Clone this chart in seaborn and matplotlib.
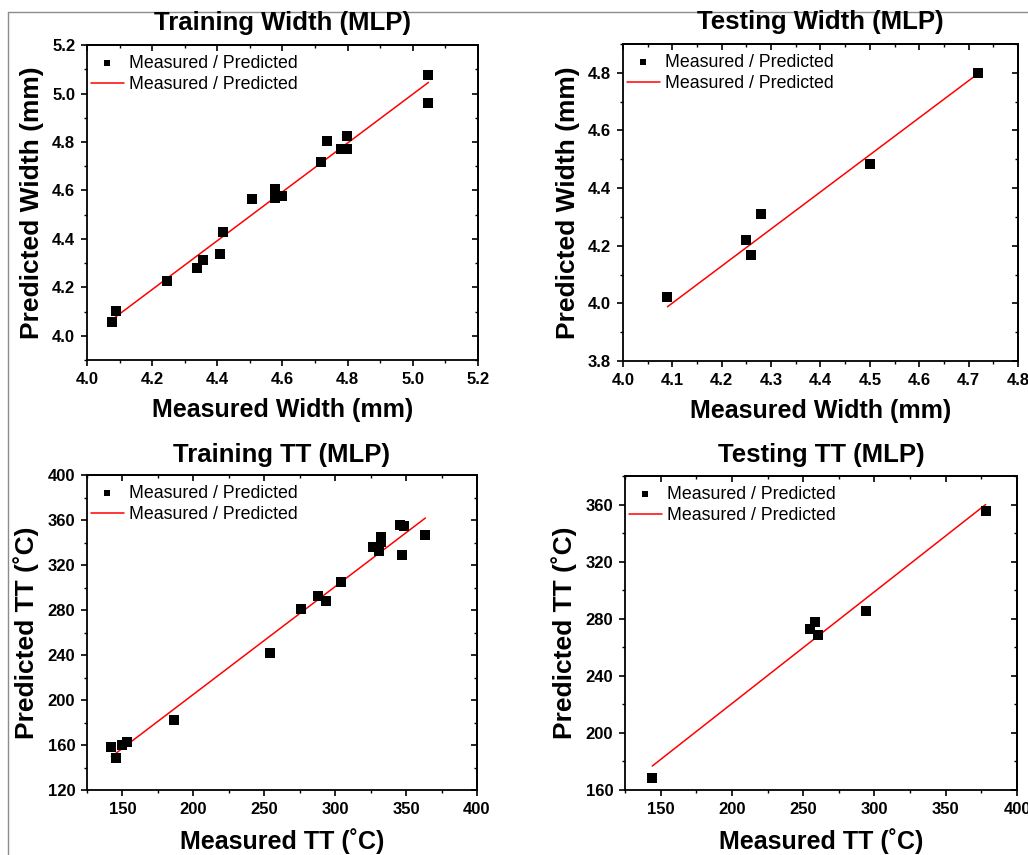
import matplotlib
matplotlib.use("Agg")
import matplotlib.pyplot as plt
from matplotlib.lines import Line2D
from matplotlib.ticker import MultipleLocator
import seaborn as sns
import pandas as pd

# ---- data -------------------------------------------------------------
train_w_meas = [4.078, 4.088, 4.247, 4.338, 4.357, 4.408, 4.417, 4.507, 4.577,
                4.577, 4.597, 4.717, 4.738, 4.778, 4.797, 4.797, 5.048, 5.048]
train_w_pred = [4.058, 4.103, 4.228, 4.280, 4.313, 4.337, 4.429, 4.563, 4.607,
                4.570, 4.577, 4.717, 4.804, 4.772, 4.823, 4.772, 5.077, 4.959]
train_w_fit_x = [4.078, 5.048]
train_w_fit_y = [4.068, 5.046]

test_w_meas = [4.090, 4.250, 4.260, 4.280, 4.500, 4.720]
test_w_pred = [4.023, 4.220, 4.168, 4.309, 4.483, 4.800]
test_w_fit_x = [4.090, 4.720]
test_w_fit_y = [3.988, 4.798]

train_tt_meas = [142.2, 145.5, 149.5, 153.5, 186.5, 253.8, 276.1, 287.9, 293.8,
                 304.1, 326.9, 331.2, 332.1, 332.1, 345.8, 348.4, 347.2, 363.4]
train_tt_pred = [158.5, 148.7, 159.7, 162.7, 182.5, 241.8, 280.9, 292.4, 288.0,
                 305.2, 335.7, 332.1, 340.7, 344.6, 355.6, 354.7, 328.9, 346.7]
train_tt_fit_x = [142.2, 363.6]
train_tt_fit_y = [149.6, 361.8]

test_tt_meas = [144.1, 255.0, 258.2, 260.1, 293.9, 378.0]
test_tt_pred = [168.6, 272.5, 277.6, 268.7, 285.3, 355.3]
test_tt_fit_x = [144.1, 378.0]
test_tt_fit_y = [176.8, 360.0]

titles = ["Training Width (MLP)", "Testing Width (MLP)",
          "Training TT (MLP)", "Testing TT (MLP)"]
xlabels = ["Measured Width (mm)", "Measured Width (mm)",
           "Measured TT (˚C)", "Measured TT (˚C)"]
ylabels = ["Predicted Width (mm)", "Predicted Width (mm)",
           "Predicted TT (˚C)", "Predicted TT (˚C)"]
legend_label = "Measured / Predicted"

# ---- style ------------------------------------------------------------
sns.set_theme(style="ticks")
plt.rcParams["font.family"] = ["Liberation Sans", "DejaVu Sans"]
plt.rcParams.update({
    "axes.linewidth": 1.3,
    "text.color": "black",
    "axes.labelcolor": "black",
    "axes.titlecolor": "black",
    "xtick.color": "black",
    "ytick.color": "black",
    "axes.edgecolor": "black",
})

fig = plt.figure(figsize=(10.28, 8.55), dpi=100)
fig.patch.set_facecolor("white")

# axes rectangles in figure fractions
rects = [
    [0.0846, 0.5789, 0.3804, 0.3684],
    [0.6060, 0.5778, 0.3842, 0.3708],
    [0.0846, 0.0760, 0.3794, 0.3684],
    [0.6080, 0.0760, 0.3813, 0.3673],
]
panels = [
    (train_w_meas, train_w_pred, train_w_fit_x, train_w_fit_y,
     (4.0, 5.2), (3.9, 5.2), 0.2, 0.1, 0.2, 0.1, "{:.1f}", 11.0),
    (test_w_meas, test_w_pred, test_w_fit_x, test_w_fit_y,
     (4.0, 4.8), (3.8, 4.9), 0.1, 0.05, 0.2, 0.1, "{:.1f}", 11.0),
    (train_tt_meas, train_tt_pred, train_tt_fit_x, train_tt_fit_y,
     (125, 400), (120, 400), 50, 25, 40, 20, "{:.0f}", 9.5),
    (test_tt_meas, test_tt_pred, test_tt_fit_x, test_tt_fit_y,
     (125, 400), (160, 380), 50, 25, 40, 20, "{:.0f}", 10),
]

for rect, title, xl, yl, p in zip(rects, titles, xlabels, ylabels, panels):
    (mx, py, fx, fy, xlim, ylim, xmaj, xmin, ymaj, ymin, fmt, tpad) = p
    ax = fig.add_axes(rect)
    pts = pd.DataFrame({"m": mx, "p": py})
    fit = pd.DataFrame({"m": fx, "p": fy})
    sns.scatterplot(data=pts, x="m", y="p", ax=ax, marker="s", s=44,
                    color="black", linewidth=0, label=legend_label, zorder=3)
    sns.lineplot(data=fit, x="m", y="p", ax=ax, color="red", linewidth=1.1,
                 label=legend_label, zorder=2)
    ax.set_xlim(*xlim)
    ax.set_ylim(*ylim)
    ax.xaxis.set_major_locator(MultipleLocator(xmaj))
    ax.xaxis.set_minor_locator(MultipleLocator(xmin))
    ax.yaxis.set_major_locator(MultipleLocator(ymaj))
    ax.yaxis.set_minor_locator(MultipleLocator(ymin))
    ax.xaxis.set_major_formatter(plt.FuncFormatter(lambda v, _, f=fmt: f.format(v)))
    ax.yaxis.set_major_formatter(plt.FuncFormatter(lambda v, _, f=fmt: f.format(v)))
    ax.tick_params(which="major", direction="out", length=4.5, width=1.2,
                   labelsize=12, pad=4, colors="black")
    ax.tick_params(which="minor", direction="out", length=2.5, width=1.0)
    for lab in ax.get_xticklabels() + ax.get_yticklabels():
        lab.set_fontweight("bold")
    for sp in ax.spines.values():
        sp.set_visible(True)
        sp.set_color("black")
        sp.set_linewidth(1.3)

    # inward ticks on the top and right frame
    top = ax.secondary_xaxis("top")
    top.xaxis.set_major_locator(MultipleLocator(xmaj))
    top.xaxis.set_minor_locator(MultipleLocator(xmin))
    top.tick_params(which="major", direction="in", length=4.5, width=1.2,
                    labeltop=False)
    top.tick_params(which="minor", direction="in", length=2.5, width=1.0)
    right = ax.secondary_yaxis("right")
    right.yaxis.set_major_locator(MultipleLocator(ymaj))
    right.yaxis.set_minor_locator(MultipleLocator(ymin))
    right.tick_params(which="major", direction="in", length=4.5, width=1.2,
                      labelright=False)
    right.tick_params(which="minor", direction="in", length=2.5, width=1.0)

    ax.set_title(title, fontsize=18.5, fontweight="bold", pad=tpad)
    ax.set_xlabel(xl, fontsize=18, fontweight="bold", labelpad=8)
    ax.set_ylabel(yl, fontsize=19, fontweight="bold", labelpad=6)

    ax.legend(loc="upper left", bbox_to_anchor=(0.0, 0.98), frameon=False,
              fontsize=12.8, handlelength=1.9, handletextpad=0.25,
              labelspacing=0.22, borderpad=0.2, borderaxespad=0,
              markerscale=0.7)

# thin grey frame along the top and left edges of the canvas
fig.add_artist(Line2D([8 / 1028, 1.0], [1 - 12 / 855, 1 - 12 / 855],
                      color="#8c8c8c", linewidth=1.0, zorder=0))
fig.add_artist(Line2D([8 / 1028, 8 / 1028], [0.0, 1 - 12 / 855],
                      color="#8c8c8c", linewidth=1.0, zorder=0))

fig.savefig("out.png", dpi=100, facecolor="white")
